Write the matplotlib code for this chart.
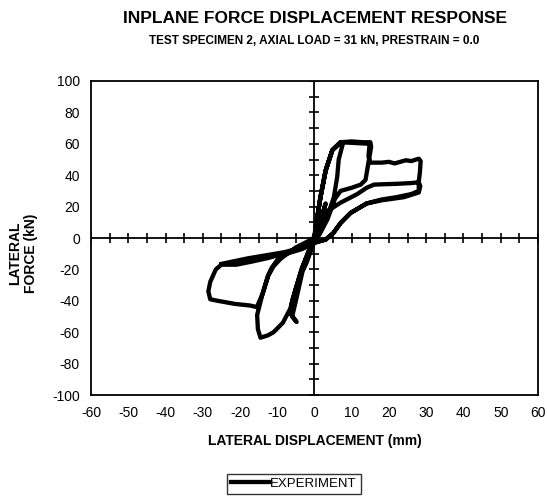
import numpy as np
import matplotlib.pyplot as plt

plt.rcParams['font.family'] = ['Liberation Sans', 'DejaVu Sans']
plt.rcParams['axes.unicode_minus'] = False

# hysteresis trace: lateral displacement (mm), lateral force (kN)
disp = [0, 1, 2, 3, 2.5, 1, 0, -1, -2, -3, -2.5, -1, 0,
        # cycle A (+7 mm / -6 mm)
        0.5, 1.6, 3, 4.8, 7, 7.6, 6.5, 6.1, 5.2, 3.4, 1.5, 0,
        -1, -3, -5, -6, -4.8, -6.5, -6, -4.7, -3.3, -1.5, 0,
        # cycle B (+15 mm / -15 mm)
        0.5, 1.6, 3, 4.8, 7, 10, 13, 15, 15.2, 14.5, 13.7, 12.4, 10, 7,
        5.5, 3.5, 1.5, 0, -3.3, -7.5, -10, -11.5, -12.5, -14, -15.4, -15.2,
        -14.5, -12.5, -11, -8.5, -6.5, -5, -3.5, -1.5, 0,
        # cycle C1 (+28 mm / -28 mm)
        0.5, 1.6, 3, 4.8, 7, 11, 14.8, 14.5, 15, 18, 20, 21.5, 23, 24.5, 26,
        28, 28.5, 28.3, 28, 28, 26, 22, 18, 14, 9.7, 7, 5, 3, 0,
        -3.3, -7.8, -12.4, -16.8, -21, -25, -26.5, -28, -28.5, -28, -26,
        -21.3, -17.3, -15.5, -14, -12.4, -11, -9, -5, 0,
        # cycle C2
        1.5, 3.4, 7, 11.5, 14, 16, 18, 22, 26, 28, 28.4, 28, 24, 18, 14,
        9.7, 7, 5, 3, 0, -4, -8, -13, -18, -22, -25]
force = [0, 6, 14, 22, 18, 5, -2, -8, -15, -20, -16, -5, 2,
         9.5, 26, 43, 56, 61, 60, 50, 39, 26, 13.6, 4, -2,
         -8, -19, -40, -50, -53.5, -48, -40, -30, -19, -8, 0,
         9.5, 26, 43, 56, 61, 61.5, 61, 61, 58, 48, 37, 34, 32, 30,
         25, 12, 3, -3, -7, -10, -14, -19, -24, -36, -49, -58,
         -63.5, -62, -60, -54, -45, -32, -20, -8, 0,
         9.5, 26, 43, 56, 61, 60.5, 60, 52, 48, 48, 48.5, 47.5, 48.5, 49.5, 49,
         50.5, 49, 42, 36, 30, 28, 26, 24.5, 22, 16, 9.5, 3, -1, -3,
         -6.4, -9.6, -12.7, -15, -17, -17, -20, -28, -34, -39, -40,
         -42, -43, -44, -36, -24, -18, -13, -6, 0,
         8, 17, 22.5, 28, 32, 34, 34.2, 34.5, 35, 35.5, 33, 29, 26, 24, 22,
         16, 9.5, 3, -1, -3, -6.5, -9, -11, -13, -15, -16.5]

fig = plt.figure(figsize=(5.47, 4.96), dpi=100)
ax = fig.add_axes([0.1664, 0.2036, 0.8171, 0.6331])

ax.plot(disp, force, color='black', lw=3.1, solid_joinstyle='round',
        label='EXPERIMENT', zorder=3)

# zero axes with cross ticks
ax.axhline(0, color='black', lw=1.3, zorder=2)
ax.axvline(0, color='black', lw=1.3, zorder=2)
xt = np.arange(-60, 61, 5)
ax.plot(xt, np.zeros_like(xt), ls='none', marker='|', ms=7, mew=1.2, color='black', zorder=2)
yt = np.arange(-100, 101, 10)
ax.plot(np.zeros_like(yt), yt, ls='none', marker='_', ms=7, mew=1.2, color='black', zorder=2)

ax.set_xlim(-60, 60)
ax.set_ylim(-100, 100)
ax.set_xticks(np.arange(-60, 61, 10))
ax.set_yticks(np.arange(-100, 101, 20))
ax.tick_params(length=0, labelsize=10, pad=8)
for s in ax.spines.values():
    s.set_linewidth(1.3)

ax.set_xlabel('LATERAL DISPLACEMENT (mm)', fontsize=10, fontweight='bold', labelpad=10)
ax.set_ylabel('LATERAL\nFORCE (kN)', fontsize=10, fontweight='bold')
ax.yaxis.set_label_coords(-0.118, 0.45)

fig.text(0.575, 0.962, 'INPLANE FORCE DISPLACEMENT RESPONSE', ha='center', va='center',
         fontsize=12.5, fontweight='bold')
fig.text(0.575, 0.918, 'TEST SPECIMEN 2, AXIAL LOAD = 31 kN, PRESTRAIN = 0.0', ha='center',
         va='center', fontsize=8.5, fontweight='bold')

fig.legend(loc='center', bbox_to_anchor=(0.537, 0.025), frameon=True, fancybox=False,
           edgecolor='black', fontsize=9.5, handlelength=3, handletextpad=0,
           borderpad=0.3)

fig.savefig('out.png', dpi=100)
